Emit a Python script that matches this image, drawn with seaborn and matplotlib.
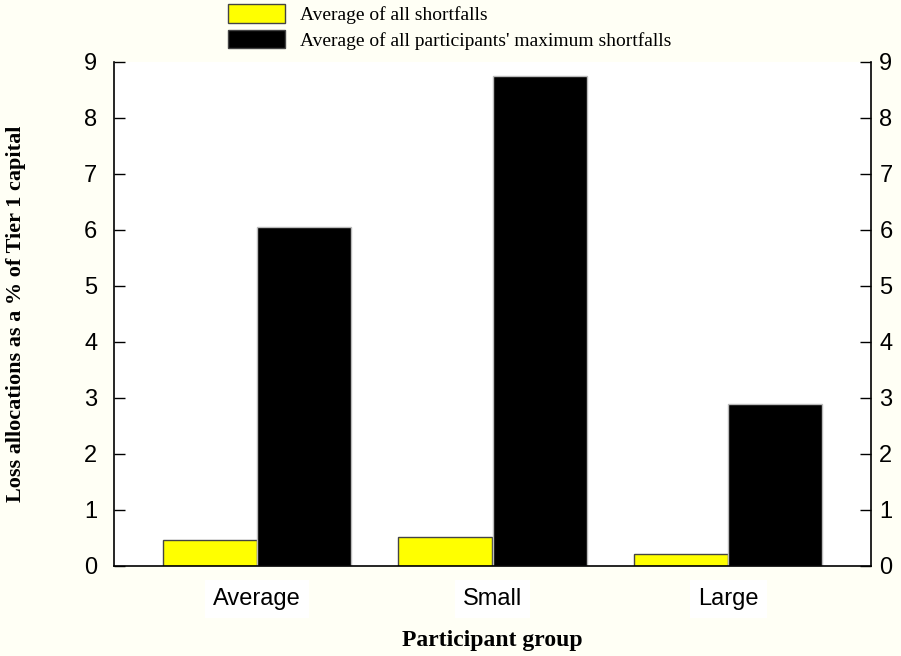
import matplotlib
matplotlib.use("Agg")
import matplotlib.pyplot as plt
import seaborn as sns
import pandas as pd

groups = ["Average", "Small", "Large"]
series = ["Average of all shortfalls", "Average of all participants' maximum shortfalls"]
avg_shortfall = [0.46, 0.52, 0.21]
max_shortfall = [6.05, 8.75, 2.9]
colors = ["#ffff00", "#000000"]
yticks = list(range(10))

df = pd.DataFrame({
    "group": groups * 2,
    "series": [series[0]] * 3 + [series[1]] * 3,
    "value": avg_shortfall + max_shortfall,
})

sns.set_style("ticks", {"text.color": "black", "axes.labelcolor": "black",
                        "xtick.color": "black", "ytick.color": "black",
                        "axes.edgecolor": "black"})
bg = "#fffff5"
fig = plt.figure(figsize=(9.01, 6.56), dpi=100, facecolor=bg)
ax = fig.add_axes([114 / 901, 1 - 566 / 656, 757 / 901, 504 / 656])
ax.set_facecolor("white")

sns.barplot(data=df, x="group", y="value", hue="series", palette=colors,
            width=0.8, saturation=1, ax=ax, legend=False)

for bar in ax.patches:
    fc = bar.get_facecolor()
    if fc[0] > 0.5:
        bar.set_edgecolor("#444444")
    else:
        bar.set_edgecolor("#bbbbbb")
    bar.set_linewidth(1)

ax.set_xlim(-0.607, 2.607)
ax.set_ylim(0, 9)
ax.set_yticks(yticks)
ax.spines["top"].set_visible(False)
ax.spines["right"].set_visible(False)
for s in ["left", "bottom"]:
    ax.spines[s].set_linewidth(1.2)
ax.tick_params(axis="y", direction="in", length=8, width=1, labelsize=17, pad=12)
ax.tick_params(axis="x", length=0, labelsize=17, pad=16)
for lbl in ax.get_yticklabels():
    lbl.set_fontfamily("Liberation Sans")
for lbl in ax.get_xticklabels():
    lbl.set_fontfamily("Liberation Sans")
    lbl.set_bbox(dict(facecolor="white", edgecolor="none", pad=6))

# right-hand duplicate axis
ax2 = ax.twinx()
ax2.set_ylim(0, 9)
ax2.set_yticks(yticks)
for s in ["top", "left", "bottom"]:
    ax2.spines[s].set_visible(False)
ax2.spines["right"].set_linewidth(1.2)
ax2.tick_params(axis="y", direction="in", length=8, width=1, labelsize=17, pad=6)
for lbl in ax2.get_yticklabels():
    lbl.set_fontfamily("Liberation Sans")

ax.set_xlabel("Participant group", fontfamily="Liberation Serif", fontweight="bold",
              fontsize=17, labelpad=14)
ax.set_ylabel("Loss allocations as a % of Tier 1 capital", fontfamily="Liberation Serif",
              fontweight="bold", fontsize=16, labelpad=22)
ax.yaxis.set_label_coords(-88 / 757, 0.5)

handles = [plt.Rectangle((0, 0), 1, 1, facecolor=c, edgecolor="#444444", linewidth=1) for c in colors]
fig.legend(handles, series, loc="upper left", bbox_to_anchor=(224 / 901, 1.0),
           frameon=False, prop={"family": "Liberation Serif", "size": 14},
           handlelength=2.95, handleheight=1.1, labelspacing=0.3, handletextpad=0.75,
           borderaxespad=0, borderpad=0.2)

fig.savefig("out.png", dpi=100, facecolor=bg)
